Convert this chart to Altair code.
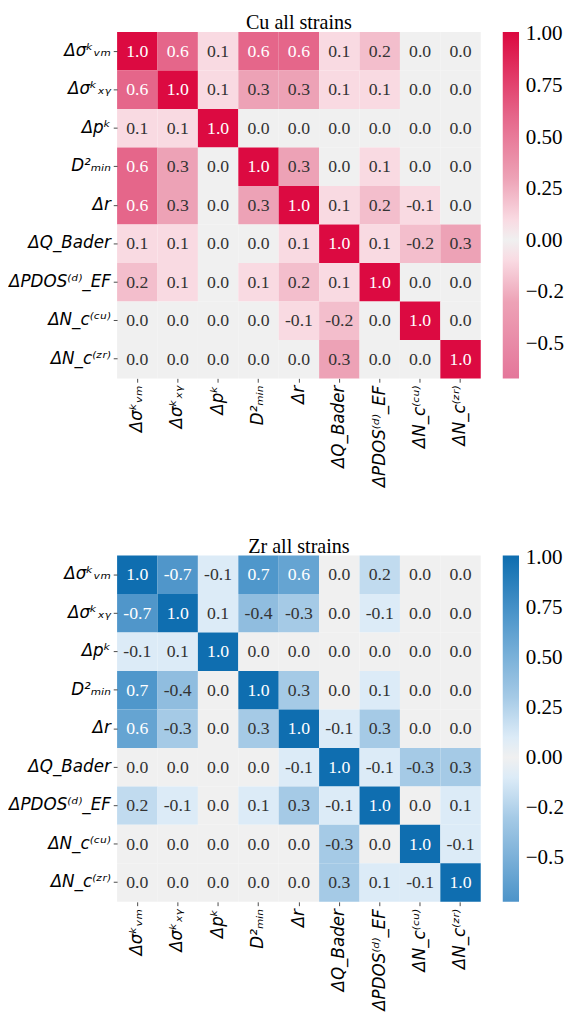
import altair as alt
import pandas as pd

labels = ["Δσᵏᵥₘ", "Δσᵏₓᵧ", "Δpᵏ", "D²ₘᵢₙ", "Δr", "ΔQ_Bader",
          "ΔPDOS⁽ᵈ⁾_EF", "ΔN_c⁽ᶜᵘ⁾", "ΔN_c⁽ᶻʳ⁾"]

cu_values = [
    [1.0, 0.6, 0.1, 0.6, 0.6, 0.1, 0.2, 0.0, 0.0],
    [0.6, 1.0, 0.1, 0.3, 0.3, 0.1, 0.1, 0.0, 0.0],
    [0.1, 0.1, 1.0, 0.0, 0.0, 0.0, 0.0, 0.0, 0.0],
    [0.6, 0.3, 0.0, 1.0, 0.3, 0.0, 0.1, 0.0, 0.0],
    [0.6, 0.3, 0.0, 0.3, 1.0, 0.1, 0.2, -0.1, 0.0],
    [0.1, 0.1, 0.0, 0.0, 0.1, 1.0, 0.1, -0.2, 0.3],
    [0.2, 0.1, 0.0, 0.1, 0.2, 0.1, 1.0, 0.0, 0.0],
    [0.0, 0.0, 0.0, 0.0, -0.1, -0.2, 0.0, 1.0, 0.0],
    [0.0, 0.0, 0.0, 0.0, 0.0, 0.3, 0.0, 0.0, 1.0],
]

zr_values = [
    [1.0, -0.7, -0.1, 0.7, 0.6, 0.0, 0.2, 0.0, 0.0],
    [-0.7, 1.0, 0.1, -0.4, -0.3, 0.0, -0.1, 0.0, 0.0],
    [-0.1, 0.1, 1.0, 0.0, 0.0, 0.0, 0.0, 0.0, 0.0],
    [0.7, -0.4, 0.0, 1.0, 0.3, 0.0, 0.1, 0.0, 0.0],
    [0.6, -0.3, 0.0, 0.3, 1.0, -0.1, 0.3, 0.0, 0.0],
    [0.0, 0.0, 0.0, 0.0, -0.1, 1.0, -0.1, -0.3, 0.3],
    [0.2, -0.1, 0.0, 0.1, 0.3, -0.1, 1.0, 0.0, 0.1],
    [0.0, 0.0, 0.0, 0.0, 0.0, -0.3, 0.0, 1.0, -0.1],
    [0.0, 0.0, 0.0, 0.0, 0.0, 0.3, 0.1, -0.1, 1.0],
]

legend_ticks = [1.0, 0.75, 0.5, 0.25, 0.0, -0.25, -0.5]

cu_domain = [-0.67, -0.3, -0.1, 0.0, 0.1, 0.3, 0.6, 1.0, 1.008]
cu_colors = ["#e4769a", "#eda2b6", "#f9dae2", "#f0f0f0", "#f9dae2",
             "#eda2b6", "#e5668a", "#dc0a41", "#dc0a41"]
zr_domain = [-0.72, -0.3, -0.1, 0.0, 0.1, 0.3, 0.7, 1.0, 1.008]
zr_colors = ["#4c93c9", "#a5cae6", "#dcebf7", "#f0f0f0", "#dcebf7",
             "#a5cae6", "#4f97cb", "#0f6eb0", "#0f6eb0"]


def long_df(mat):
    rows = []
    for i, r in enumerate(labels):
        for j, c in enumerate(labels):
            v = mat[i][j]
            rows.append({"row": r, "col": c, "value": v, "text": f"{v:.1f}"})
    return pd.DataFrame(rows)


def heatmap(mat, title, domain, colors):
    df = long_df(mat)
    base = alt.Chart(df).encode(
        x=alt.X("col:N", sort=labels, title=None,
                axis=alt.Axis(labelAngle=270, labelFont="DejaVu Sans",
                              labelFontSize=17.5, labelFontStyle="italic",
                              labelColor="black", tickSize=4, tickColor="#444",
                              domain=False, labelPadding=3, labelLimit=200)),
        y=alt.Y("row:N", sort=labels, title=None,
                axis=alt.Axis(labelFont="DejaVu Sans", labelFontSize=17.5,
                              labelFontStyle="italic", labelColor="black",
                              tickSize=4, tickColor="#444", domain=False,
                              labelPadding=3, labelLimit=200)),
    )
    rect = base.mark_rect().encode(
        color=alt.Color(
            "value:Q",
            scale=alt.Scale(domain=domain, range=colors, interpolate="rgb"),
            legend=alt.Legend(
                title=None, orient="right", offset=23, padding=0,
                direction="vertical", gradientLength=362,
                gradientThickness=17, gradientStrokeWidth=0,
                values=legend_ticks,
                labelExpr="datum.value < 0 ? '−' + slice(format(-datum.value, '.2f'), 0, 3) : format(datum.value, '.2f')",
                labelFont="Liberation Serif", labelFontSize=22,
                labelColor="black", labelOffset=7, labelBaseline="middle",
            ),
        )
    )
    text = base.mark_text(font="Liberation Serif", fontSize=18.5).encode(
        text="text:N",
        color=alt.condition("abs(datum.value) >= 0.5",
                            alt.value("white"), alt.value("#333333")),
    )
    return alt.layer(rect, text).properties(
        width=380, height=362,
        title=alt.Title(title, font="Liberation Serif", fontSize=21,
                        fontWeight="normal", color="black", offset=-1),
    )


top = heatmap(cu_values, "Cu all strains", cu_domain, cu_colors)
bottom = heatmap(zr_values, "Zr all strains", zr_domain, zr_colors)

chart = alt.vconcat(top, bottom, spacing=51).resolve_scale(
    color="independent"
).properties(
    padding={"left": 0, "top": -18, "right": 0, "bottom": 0}
).configure_view(stroke=None)

chart.save("out.html", embed_options={"renderer": "svg", "actions": False})
